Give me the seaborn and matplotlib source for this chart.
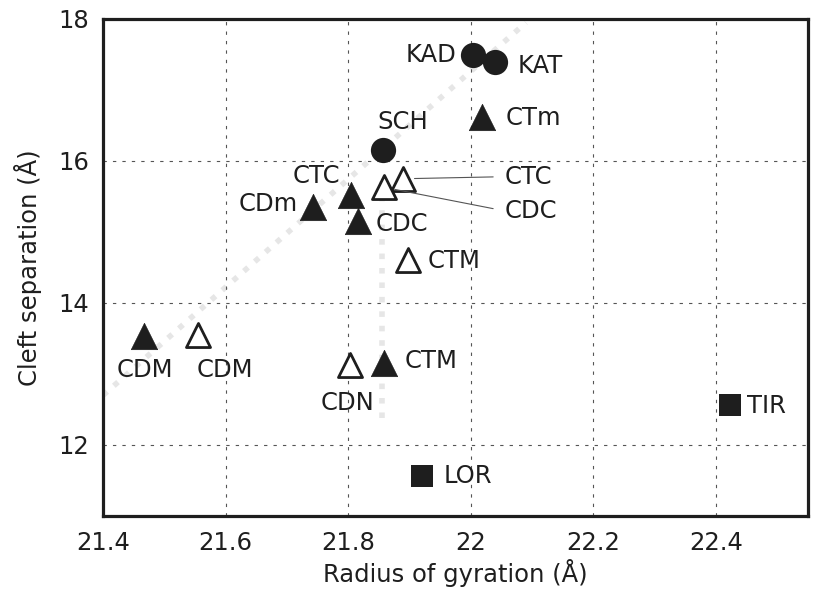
import matplotlib
matplotlib.use("Agg")
import matplotlib.pyplot as plt
import seaborn as sns
import pandas as pd

# ---- data ----
labels = ["KAD", "KAT", "CTm", "SCH", "CTC", "CDm", "CDC", "CTC", "CDC",
          "CTM", "CDM", "CDM", "CDN", "CTM", "LOR", "TIR"]
radius = [22.004, 22.040, 22.018, 21.857, 21.805, 21.743, 21.816, 21.890, 21.858,
          21.898, 21.467, 21.555, 21.803, 21.858, 21.920, 22.423]
cleft = [17.49, 17.40, 16.62, 16.16, 15.52, 15.35, 15.15, 15.75, 15.63,
         14.61, 13.53, 13.55, 13.12, 13.15, 11.56, 12.57]
kind = ["circle", "circle", "tri_filled", "circle", "tri_filled", "tri_filled",
        "tri_filled", "tri_open", "tri_open", "tri_open", "tri_filled", "tri_open",
        "tri_open", "tri_filled", "square", "square"]
x_ticks = [21.4, 21.6, 21.8, 22.0, 22.2, 22.4]
x_tick_labels = ["21.4", "21.6", "21.8", "22", "22.2", "22.4"]
y_ticks = [12, 14, 16, 18]

# faint show-through traces visible in the scan
ghost_diag_x = [21.40, 22.09]
ghost_diag_y = [12.70, 17.95]
ghost_vert_x = [21.855, 21.855]
ghost_vert_y = [12.38, 15.80]

# ---- styling ----
label_offsets = [(-12, 0, "right"), (16, -3, "left"), (17, -1, "left"), (14, 20, "center"),
                 (-8, 14, "right"), (-11, 2, "right"), (13, -2, "left"), (73, 1.5, "left"),
                 (87, -17, "left"), (14, -1, "left"), (0.7, -24.5, "center"), (19, -25, "center"),
                 (-1.5, -27, "center"), (15, 1.5, "left"), (16, 0, "left"), (12, -1, "left")]
leader = [False] * 16
leader[7] = True
leader[8] = True

sns.set_theme(style="white")
plt.rcParams["font.family"] = ["DejaVu Sans"]
ink = "#1e1e1e"
fs = 17.5

df = pd.DataFrame({"label": labels, "radius": radius, "cleft": cleft, "kind": kind})

fig = plt.figure(figsize=(8.13, 5.90), dpi=100)
ax = fig.add_axes([103 / 813, 1 - 516 / 590, 705 / 813, 497 / 590])

ax.plot(ghost_diag_x, ghost_diag_y, color="#e6e6e6", lw=4.0, ls=(0, (1.0, 1.6)), zorder=0)
ax.plot(ghost_vert_x, ghost_vert_y, color="#e6e6e6", lw=4.0, ls=(0, (1.0, 1.6)), zorder=0)

style = {
    "circle": dict(marker="o", s=330, color=ink, edgecolor=ink, linewidth=0),
    "tri_filled": dict(marker="^", s=360, color=ink, edgecolor=ink, linewidth=0.5),
    "tri_open": dict(marker="^", s=300, color="white", edgecolor=ink, linewidth=2.0),
    "square": dict(marker="s", s=250, color=ink, edgecolor=ink, linewidth=0),
}
for k, st in style.items():
    sub = df[df["kind"] == k]
    sns.scatterplot(data=sub, x="radius", y="cleft", ax=ax, legend=False, zorder=3, **st)

for i, row in df.iterrows():
    dx, dy, ha = label_offsets[i]
    kw = dict(textcoords="offset points", ha=ha, va="center", fontsize=fs, color=ink, zorder=4)
    if leader[i]:
        kw["arrowprops"] = dict(arrowstyle="-", lw=0.8, color="#555555",
                                shrinkA=6, shrinkB=8, relpos=(0, 0.5))
    ax.annotate(row["label"], xy=(row["radius"], row["cleft"]), xytext=(dx, dy), **kw)

ax.set_xlim(21.4, 22.55)
ax.set_ylim(11, 18)
ax.set_xticks(x_ticks)
ax.set_xticklabels(x_tick_labels)
ax.set_yticks(y_ticks)
ax.grid(True, color="#555555", lw=0.8, ls=(0, (3, 5.5)))
ax.set_axisbelow(True)
ax.tick_params(direction="in", length=9.5, width=0.8, color="#444444",
               labelsize=fs, labelcolor=ink)
ax.tick_params(axis="x", pad=11)
ax.tick_params(axis="y", pad=10)
for sp in ax.spines.values():
    sp.set_linewidth(2.3)
    sp.set_color(ink)
    sp.set_visible(True)
ax.set_xlabel("Radius of gyration (Å)", fontsize=fs, color=ink, labelpad=3)
ax.set_ylabel("Cleft separation (Å)", fontsize=fs, color=ink, labelpad=12)

fig.savefig("out.png", dpi=100, facecolor="white")
